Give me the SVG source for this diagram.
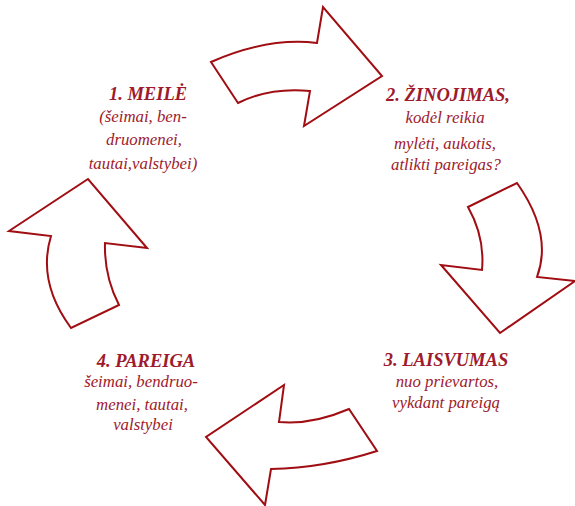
<svg xmlns="http://www.w3.org/2000/svg" width="575" height="506" viewBox="0 0 575 506">
<style>
.arrow{fill:#ffffff;stroke:#a00d12;stroke-width:2;stroke-linejoin:miter}
.t{font-family:"Liberation Serif","DejaVu Serif",serif;font-style:italic;fill:#9e1a2c;text-anchor:middle}
.h{font-weight:bold;font-size:18.5px}
.b{font-size:16.8px}
</style>
<rect width="575" height="506" fill="#ffffff"/>
<g id="connectors">
<path id="arrow-top" class="arrow" d="M211,62 Q268,37 317,43 L323,7 L382,76 L304,126 L310,91 Q270,87 238,103 Z"/>
<path id="arrow-right" class="arrow" d="M468,207 L517,183 Q553,234 537,277 L575,281 L500,333 L441,265 L482,270 Q485,237 468,207 Z"/>
<path id="arrow-bottom" class="arrow" d="M377,451 Q324,468 271,469 L265,505 L206,437 L284,385 L279,422 Q312,425 349,409 Z"/>
<path id="arrow-left" class="arrow" d="M71,328 Q37,282 51,236 L9,231 L88,179 L147,248 L105,243 Q104,276 119,305 Z"/>
</g>
<g id="node1">
<text class="t h" x="148" y="100">1. MEILĖ</text>
<text class="t b" x="143" y="122">(šeimai,  ben-</text>
<text class="t b" x="144" y="145">druomenei,</text>
<text class="t b" x="143" y="169">tautai,valstybei)</text>
</g>
<g id="node2">
<text class="t h" x="448" y="101">2. ŽINOJIMAS,</text>
<text class="t b" x="445" y="123">kodėl reikia</text>
<text class="t b" x="445" y="149">mylėti, aukotis,</text>
<text class="t b" x="446" y="170">atlikti pareigas?</text>
</g>
<g id="node3">
<text class="t h" x="446" y="366">3. LAISVUMAS</text>
<text class="t b" x="447" y="387">nuo prievartos,</text>
<text class="t b" x="446" y="408">vykdant pareigą</text>
</g>
<g id="node4">
<text class="t h" x="146" y="367">4. PAREIGA</text>
<text class="t b" x="141" y="387">šeimai, bendruo-</text>
<text class="t b" x="142" y="410">menei, tautai,</text>
<text class="t b" x="143" y="430">valstybei</text>
</g>
</svg>
